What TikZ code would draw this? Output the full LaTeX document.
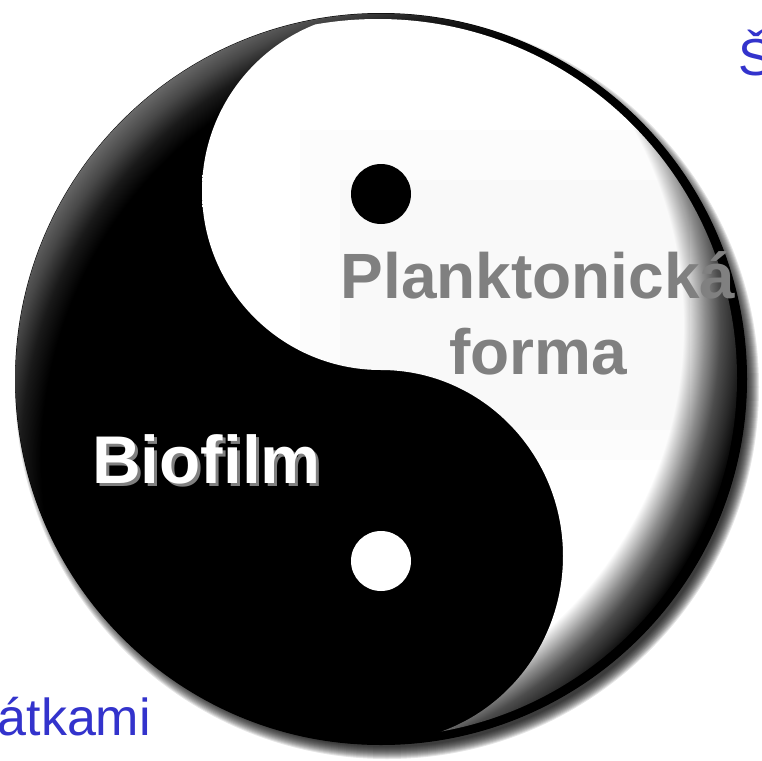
\documentclass[tikz,border=0pt]{standalone}
\usepackage{fontspec}
\setmainfont{Liberation Sans}
\definecolor{labelblue}{RGB}{51,51,204}
\definecolor{labelgray}{RGB}{128,128,128}
% radial shadings: 25bp corresponds to the radius of the shaded circle (500 units)
\pgfdeclareradialshading{crescentglow}{\pgfpoint{0bp}{0bp}}{%
  color(0bp)=(black); color(21bp)=(black); color(22bp)=(black!90); color(23bp)=(black!72); color(24bp)=(black!58); color(25bp)=(black!55); color(50bp)=(black!55)}
\pgfdeclareradialshading{rimshade}{\pgfpoint{0bp}{0bp}}{%
  color(0bp)=(white); color(20.4bp)=(white); color(20.75bp)=(black!15); color(21.5bp)=(black!45); color(22.25bp)=(black!70); color(23bp)=(black!84); color(23.75bp)=(black); color(50bp)=(black)}
\tikzset{
  x=1pt,y=-1pt,
  softrim/.style={fill=black,fill opacity=0.10},
  eye/.style={circle,minimum size=60pt,inner sep=0pt},
  planklabel/.style={font=\bfseries\fontsize{64}{76}\selectfont,text=labelgray,inner sep=0pt,anchor=base},
  biolabel/.style={font=\bfseries\fontsize{67.5}{76}\selectfont,inner sep=0pt,anchor=base west},
  sidelabel/.style={font=\fontsize{52}{60}\selectfont,text=labelblue,inner sep=0pt},
}
\begin{document}
\begin{tikzpicture}
\useasboundingbox (0,0) rectangle (761,761);
\fill[white] (0,0) rectangle (761,761);
\coordinate (c) at (381,379);
% soft shadow outside the disc, stronger to the lower right
\foreach \r in {372,371,...,360}{\fill[softrim] (387,387) circle[radius=\r];}
% side texts
\node[sidelabel,anchor=base west] (sa) at (738,75) {Š};
\node[sidelabel,anchor=base east] (sb) at (151,735) {átkami};
% black disc
\fill[black] (c) circle[radius=366];
% grey glow along the upper left rim
\begin{scope}
\clip (c) circle[radius=365.5];
\shade[shading=crescentglow] (461,459) circle[radius=500];
\end{scope}
% white half, bounded by the S curve, with shaded rim on the right
\begin{scope}
\clip (381,12) arc[start angle=270,end angle=90,radius=179]
      arc[start angle=270,end angle=450,x radius=182,y radius=186]
      -- (381,800) -- (800,800) -- (800,-40) -- (381,-40) -- cycle;
\clip (378,378) circle[radius=359];
\shade[shading=rimshade] (275,325) circle[radius=500];
\fill[black,fill opacity=0.012] (300,130) rectangle (690,460);
\fill[black,fill opacity=0.012] (340,180) rectangle (690,430);
\end{scope}
% dots
\node[eye,fill=black] (d1) at (381,194) {};
\node[eye,fill=white] (d2) at (381,561) {};
% labels
\node[planklabel] (pa) at (538,298) {Planktonická};
\node[planklabel] (pb) at (538,374) {forma};
\node[biolabel,text=black!50] (bs) at (95,486) {Biofilm};
\node[biolabel,text=white] (bf) at (92,483) {Biofilm};
\end{tikzpicture}
\end{document}
